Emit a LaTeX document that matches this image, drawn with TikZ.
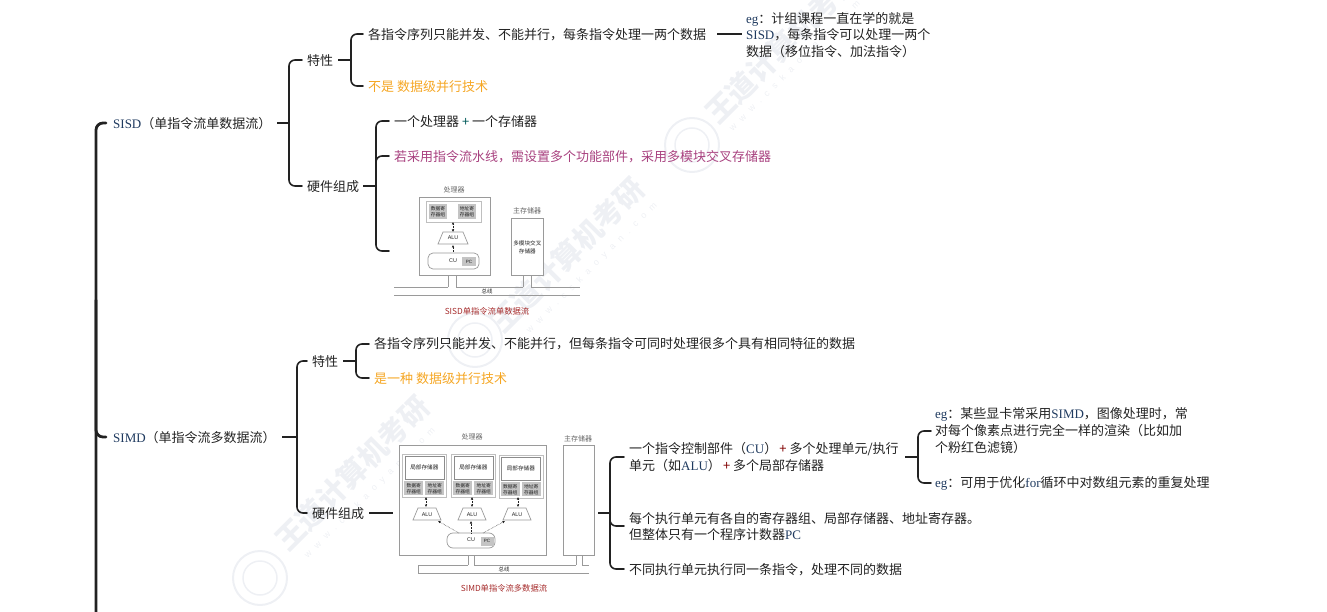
\documentclass[tikz,border=0pt]{standalone}
\usepackage{fontspec}
\setmainfont{Noto Sans CJK SC}
\newfontfamily\lat{Liberation Serif}
\newfontfamily\hv{Liberation Sans}
\newfontfamily\wmf[LetterSpace=75]{Liberation Sans}
\usetikzlibrary{arrows.meta,calc}
\definecolor{ink}{HTML}{222222}
\definecolor{orangetxt}{HTML}{F5A623}
\definecolor{plumtxt}{HTML}{A8417F}
\definecolor{redcap}{HTML}{A52A2A}
\definecolor{latblue}{HTML}{1F3A5F}
\definecolor{boxgray}{HTML}{C4C4C4}
\definecolor{framegray}{HTML}{9A9A9A}
\definecolor{wm}{HTML}{EEF0F4}
\newcommand{\La}[1]{{\lat\color{latblue}#1}}
\tikzset{
 x=1pt,y=-1pt,
 txt/.style={anchor=west,inner sep=0pt,text=ink,font=\fontsize{13}{16}\selectfont,align=left},
 orangelbl/.style={txt,text=orangetxt},
 plumlbl/.style={txt,text=plumtxt},
 branch/.style={draw=ink,line width=1.6pt,rounded corners=6pt,line cap=round},
 stub/.style={draw=ink,line width=1.5pt},
 trunk/.style={draw=ink,line width=2.8pt,rounded corners=7pt,line cap=round},
 frame/.style={draw=framegray,line width=.7pt,fill=white},
 thin/.style={draw=framegray,line width=.7pt},
 reg/.style={fill=boxgray,draw=none,text=ink,font=\fontsize{4.8}{6}\selectfont,align=center,inner sep=0pt},
 tiny/.style={text=ink,font=\hv\fontsize{5.4}{6}\selectfont,align=center,inner sep=0pt},
 tinyhd/.style={text=black!60,font=\fontsize{7}{8}\selectfont,inner sep=0pt},
 figcap/.style={text=redcap,font=\fontsize{8.3}{9}\selectfont,inner sep=0pt},
 dbl/.style={draw=ink,line width=.5pt,densely dotted,{Latex[length=2.5pt,width=2.5pt]}-{Latex[length=2.5pt,width=2.5pt]}},
 sgl/.style={draw=ink,line width=.5pt,densely dotted,-{Latex[length=2.5pt,width=2.5pt]}},
 wmt/.style={text=wm,font=\fontsize{29}{32}\selectfont\bfseries,rotate=45,inner sep=0pt},
 wms/.style={text=wm,font=\wmf\fontsize{9}{10}\selectfont,rotate=45,inner sep=0pt},
 wmc/.style={draw=wm,line width=2pt,circle,minimum size=54pt,inner sep=0pt},
 wmi/.style={draw=wm,line width=1.5pt,circle,minimum size=34pt,inner sep=0pt},
}
\begin{document}
\begin{tikzpicture}
\useasboundingbox (0,0) rectangle (1327,612);
% watermarks
\node[wmt] (w1) at (782,46) {王道计算机考研};
\node[wms] (w1b) at (795,66) {www.cskaoyan.com};
\node[wmt] (w2) at (567,255) {王道计算机考研};
\node[wms] (w2b) at (592,268) {www.cskaoyan.com};
\node[wmt] (w3) at (352,473) {王道计算机考研};
\node[wms] (w3b) at (370,493) {www.cskaoyan.com};
\node[wmc] (w1c) at (692,145) {};
\node[wmi] (w1d) at (692,145) {};
\node[wmc] (w2c) at (475,340) {};
\node[wmi] (w2d) at (475,340) {};
\node[wmc] (w3c) at (260,578) {};
\node[wmi] (w3d) at (260,578) {};
% text nodes
\node[txt] (sisd) at (113,124) {\La{SISD}（单指令流单数据流）};
\node[txt] (simd) at (113,438) {\La{SIMD}（单指令流多数据流）};
\node[txt] (tx1) at (307,61) {特性};
\node[txt] (hw1) at (307,187) {硬件组成};
\node[txt] (a1) at (368,35) {各指令序列只能并发、不能并行，每条指令处理一两个数据};
\node[orangelbl] (a2) at (368,87) {不是 数据级并行技术};
\node[txt,font=\fontsize{13}{16.5}\selectfont] (eg1) at (746,35) {\La{eg}：计组课程一直在学的就是\\\La{SISD}，每条指令可以处理一两个\\ 数据（移位指令、加法指令）};
\node[txt] (b1) at (394,122) {一个处理器 {\color{teal!70!black}+} 一个存储器};
\node[plumlbl] (b2) at (394,157) {若采用指令流水线，需设置多个功能部件，采用多模块交叉存储器};
\node[txt] (tx2) at (312,362) {特性};
\node[txt] (hw2) at (312,514) {硬件组成};
\node[txt] (c1) at (374,344) {各指令序列只能并发、不能并行，但每条指令可同时处理很多个具有相同特征的数据};
\node[orangelbl] (c2) at (374,379) {是一种 数据级并行技术};
\node[txt,font=\fontsize{13}{16.5}\selectfont] (d1) at (629,457) {一个指令控制部件（\La{CU}）\,{\color{red!50!black}+} 多个处理单元/执行\\单元（如\La{ALU}）\,{\color{red!50!black}+} 多个局部存储器};
\node[txt,font=\fontsize{13}{16.5}\selectfont] (d2) at (629,526.5) {每个执行单元有各自的寄存器组、局部存储器、地址寄存器。\\但整体只有一个程序计数器\La{PC}};
\node[txt] (d3) at (629,570) {不同执行单元执行同一条指令，处理不同的数据};
\node[txt,font=\fontsize{13}{17}\selectfont] (e1) at (935,431) {\La{eg}：某些显卡常采用\La{SIMD}，图像处理时，常\\对每个像素点进行完全一样的渲染（比如加\\个粉红色滤镜）};
\node[txt] (e2) at (935,483) {\La{eg}：可用于优化\La{for}循环中对数组元素的重复处理};
% coordinates for connector ends
\coordinate (tr0) at (96,612);
\coordinate (p1) at (289,123);
\coordinate (p2) at (351,60);
\coordinate (p3) at (376,186);
\coordinate (p4) at (297,437);
\coordinate (p5) at (356,361);
\coordinate (p6) at (610,513);
\coordinate (p7) at (918,457);
% trunk
\draw[trunk] (tr0) |- (106,123);
\draw[trunk] (96,300) |- (106,437);
% SISD
\draw[stub] (277,123) -- (p1);
\draw[branch] (302,60) -| (p1) |- (302,186);
\draw[stub] (338,60) -- (p2);
\draw[branch] (363,34) -| (p2) |- (363,86);
\draw[stub] (717,34) -- (742,34);
\draw[stub] (363,186) -- (p3);
\draw[branch] (389,121) -| (p3) |- (389,251);
\draw[branch] (389,156) -| (p3);
% SIMD
\draw[stub] (282,437) -- (p4);
\draw[branch] (307,361) -| (p4) |- (307,513);
\draw[stub] (343,361) -- (p5);
\draw[branch] (369,344) -| (p5) |- (369,378);
\draw[stub] (369,513) -- (393,513);
\draw[stub] (598,513) -- (p6);
\draw[branch] (624,457) -| (p6) |- (624,569);
\draw[branch] (624,526) -| (p6);
\draw[stub] (905,457) -- (p7);
\draw[branch] (931,431) -| (p7) |- (931,483);
% SISD figure
\draw[thin] (394,287) -- (448,287) (456,287) -- (523,287) (531,287) -- (580,287) (394,295) -- (580,295);
\draw[thin] (448,275) -- (448,287) (456,275) -- (456,287) (523,275) -- (523,287) (531,275) -- (531,287);
\node[tinyhd] (h1) at (454,190) {处理器};
\node[tinyhd] (h2) at (527,211) {主存储器};
\node[frame,minimum width=71pt,minimum height=78pt,anchor=north west,inner sep=0pt] (cpu) at (419,197) {};
\node[frame,minimum width=32pt,minimum height=57pt,anchor=north west,inner sep=0pt,align=center,font=\fontsize{5.6}{8}\selectfont,text=ink] (mem) at (511,218) {多模块交叉\\存储器};
\node[frame,draw=black!25,minimum width=55pt,minimum height=21pt,anchor=north west,inner sep=0pt] (rg) at (426,201) {};
\node[reg,minimum width=18pt,minimum height=15pt] (r1) at (438,211.5) {数据寄\\存器组};
\node[reg,minimum width=18pt,minimum height=15pt] (r2) at (467,211.5) {地址寄\\存器组};
\draw[frame] (438,244) -- (468,244) -- (463,232) -- (443,232) -- cycle;
\node[tiny] (alu) at (453,238) {ALU};
\draw[frame,rounded corners=5pt] (428,253) rectangle (479,269);
\node[tiny] (cu) at (453,261) {CU};
\node[reg,minimum width=14pt,minimum height=9pt,font=\hv\fontsize{4.6}{5}\selectfont] (pc) at (469,261.5) {PC};
\draw[dbl] (453,222) -- (453,232);
\draw[sgl] (453,252) -- (453,245);
\node[tiny,font=\fontsize{5.4}{6}\selectfont] (bus) at (487,291) {总线};
\node[figcap] (c1cap) at (487,311) {SISD单指令流单数据流};
% SIMD figure
\node[tinyhd] (h3) at (472,437) {处理器};
\node[tinyhd] (h4) at (578,439) {主存储器};
\node[frame,minimum width=147pt,minimum height=110pt,anchor=north west,inner sep=0pt] (cpu2) at (399,445) {};
\node[frame,minimum width=31pt,minimum height=110pt,anchor=north west,inner sep=0pt] (mem2) at (563,445) {};
\draw[thin] (589,573) -- (418,573) -- (418,565) -- (468,565) (474,565) -- (576,565) (582,565) -- (589,565);
\draw[thin] (468,555) -- (468,565) (474,555) -- (474,565) (576,555) -- (576,565) (582,555) -- (582,565);
\node[tiny,font=\fontsize{5.4}{6}\selectfont] (bus2) at (504,569) {总线};
\foreach \n/\x/\yo in {A/402/455,B/451/455,C/498.5/456}{
  \node[frame,draw=black!25,minimum width=44pt,minimum height=43pt,anchor=north west,inner sep=0pt] (u\n) at (\x,\yo-1) {};
  \node[frame,draw=black!45,minimum width=39pt,minimum height=23pt,anchor=north west,inner sep=0pt,font=\fontsize{5.6}{6}\selectfont,text=ink] (l\n) at (\x+2.5,\yo+1) {局部存储器};
  \node[reg,minimum width=19pt,minimum height=14pt,anchor=north west] (a\n) at (\x+2,\yo+26) {数据寄\\存器组};
  \node[reg,minimum width=19pt,minimum height=14pt,anchor=north west] (b\n) at (\x+23,\yo+26) {地址寄\\存器组};
}
\draw[frame] (413,520) -- (441,520) -- (436,508) -- (418,508) -- cycle;
\draw[frame] (458,520) -- (486,520) -- (481,508) -- (463,508) -- cycle;
\draw[frame] (503,520) -- (531,520) -- (526,508) -- (508,508) -- cycle;
\node[tiny] (alu1) at (427,515) {ALU};
\node[tiny] (alu2) at (472,515) {ALU};
\node[tiny] (alu3) at (517,515) {ALU};
\draw[frame,rounded corners=6pt] (447,533) rectangle (495,548);
\node[tiny] (cu2) at (471,540) {CU};
\node[reg,minimum width=13pt,minimum height=9pt,font=\hv\fontsize{4.6}{5}\selectfont] (pc2) at (487,541) {PC};
\draw[dbl] (426,497) -- (426,507);
\draw[dbl] (472,497) -- (472,507);
\draw[dbl] (518,497) -- (518,507);
\draw[sgl] (459,533) -- (438,521);
\draw[sgl] (471,533) -- (471,521);
\draw[sgl] (483,533) -- (505,521);
\node[figcap] (c2cap) at (504,588) {SIMD单指令流多数据流};
\end{tikzpicture}
\end{document}
